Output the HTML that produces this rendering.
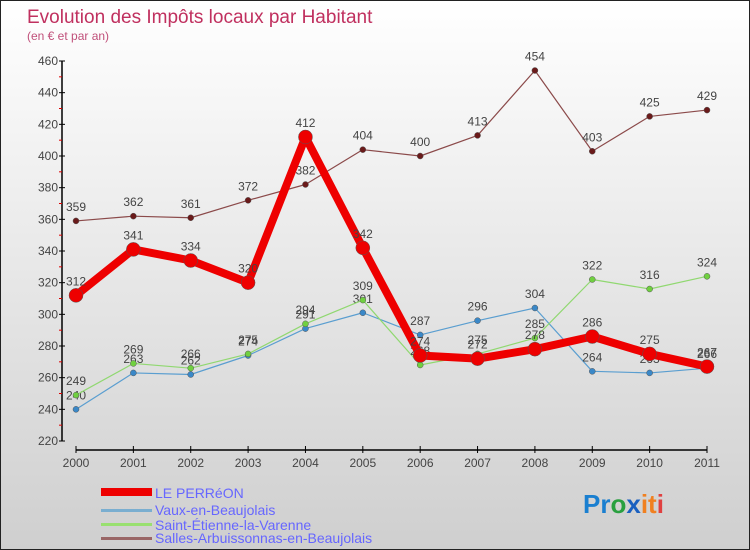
<!DOCTYPE html>
<html><head><meta charset="utf-8"><style>
body{margin:0}
#c{width:750px;height:550px;position:relative;box-sizing:border-box;border:1px solid #222;background:linear-gradient(#ffffff,#cfcfcf);font-family:"Liberation Sans",sans-serif;overflow:hidden}
</style></head><body>
<div id="c">
<svg id="s" width="750" height="550" style="position:absolute;left:0;top:0">
<text x="26" y="22" font-size="19" fill="#c0305f">Evolution des Impôts locaux par Habitant</text>
<text x="26" y="39" font-size="12" fill="#c0507a">(en € et par an)</text>
<g id="axes"></g><g id="series"></g>
<g>
<rect x="100" y="487" width="51" height="8" fill="#ee0000"/>
<text x="154" y="497" font-size="14" fill="#6666ff">LE PERRéON</text>
<rect x="100" y="508" width="51" height="3" fill="#7aaed0"/>
<text x="154" y="514" font-size="14" fill="#6666ff">Vaux-en-Beaujolais</text>
<rect x="100" y="522" width="51" height="3" fill="#99e070"/>
<text x="154" y="529" font-size="14" fill="#6666ff">Saint-Étienne-la-Varenne</text>
<rect x="100" y="536" width="51" height="3" fill="#996666"/>
<text x="154" y="542" font-size="14" fill="#6666ff">Salles-Arbuissonnas-en-Beaujolais</text>
</g>
<text x="582" y="512" font-size="26" font-weight="bold"><tspan fill="#1a7fd0">Pr</tspan><tspan fill="#2aa040">o</tspan><tspan fill="#1a60c0">x</tspan><tspan fill="#f08020">it</tspan><tspan fill="#e04040">i</tspan></text>
</svg>
</div>
<script>
const years=["2000","2001","2002","2003","2004","2005","2006","2007","2008","2009","2010","2011"];
const yTicks=[220,240,260,280,300,320,340,360,380,400,420,440,460];
const perreon=[312,341,334,320,412,342,274,272,278,286,275,267];
const vaux=[240,263,262,274,291,301,287,296,304,264,263,266];
const stEtienne=[249,269,266,275,294,309,268,275,285,322,316,324];
const salles=[359,362,361,372,382,404,400,413,454,403,425,429];
const NS="http://www.w3.org/2000/svg";
const X=i=>75+i*(706-75)/11;
const Y=v=>440-(v-220)*(380/240);
function mk(t,a,p){const e=document.createElementNS(NS,t);for(const k in a)e.setAttribute(k,a[k]);p.appendChild(e);return e;}
const ax=document.getElementById('axes');
const yl=mk('line',{x1:61,y1:60,x2:61,y2:440,stroke:'#000','stroke-width':1.5},ax);


yTicks.forEach((v,i)=>{
 mk('line',{x1:58,x2:64,y1:Y(v),y2:Y(v),stroke:'#000'},ax);
 if(i<yTicks.length-1)mk('line',{x1:58,x2:61,y1:Y(v+10),y2:Y(v+10),stroke:'#d00'},ax);
 const t=mk('text',{x:57,y:Y(v)+4,'font-size':12,'text-anchor':'end',fill:'#444'},ax);
 t.textContent=v;
 
 
});
const xl=mk('line',{x1:75,y1:449,x2:706,y2:449,stroke:'#000','stroke-width':1.5},ax);


years.forEach((y,i)=>{
 mk('line',{x1:X(i),x2:X(i),y1:445,y2:452,stroke:'#000'},ax);
 const t=mk('text',{x:X(i),y:466,'font-size':12,'text-anchor':'middle',fill:'#444'},ax);
 t.textContent=y;
 
 
});
const sg=document.getElementById('series');
function draw(data,color,w,r,dot,name){
 const g=mk('g',{},sg);
 
 
 mk('polyline',{points:data.map((v,i)=>X(i)+','+Y(v)).join(' '),fill:'none',stroke:color,'stroke-width':w,'stroke-linejoin':'round'},g);
 data.forEach((v,i)=>{
  const c=mk('circle',{cx:X(i),cy:Y(v),r:r,fill:dot,stroke:'#555','stroke-width':0.5},g);
  
  
  const t=mk('text',{x:X(i),y:Y(v)-10,'font-size':12,'text-anchor':'middle',fill:'#444'},g);
  t.textContent=v;
  
  
 });
}
draw(salles,'#8b4a4a',1.2,3,'#6a1a1a','salles');
draw(vaux,'#5a9ed0',1.2,3,'#3a88c8','vaux');
draw(stEtienne,'#90d870',1.2,3,'#70d040','saint-etienne');
draw(perreon,'#ee0000',8,7,'#ee0000','le-perreon');
</script>
</body></html>
